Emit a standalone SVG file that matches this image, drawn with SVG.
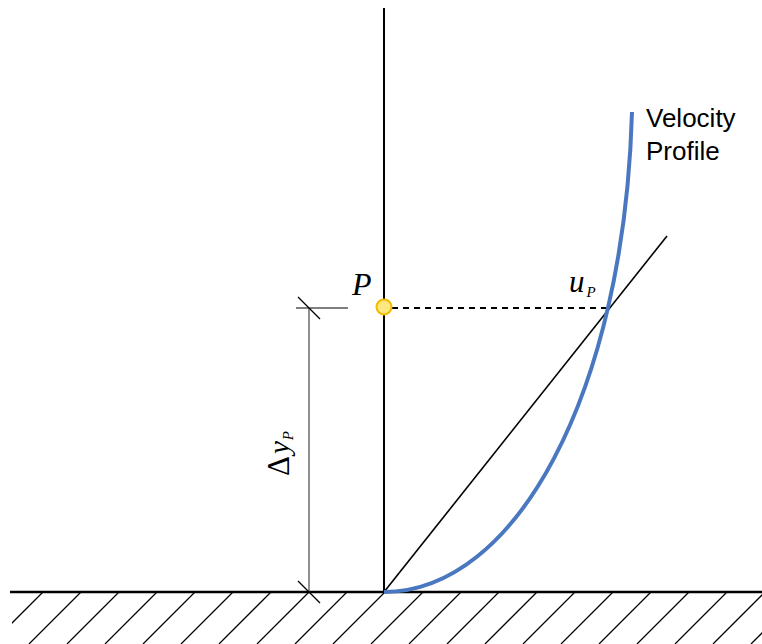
<svg xmlns="http://www.w3.org/2000/svg" width="762" height="644" viewBox="0 0 762 644">
<style>
.hatch{stroke:#000;stroke-width:1.3}
.dim{stroke:#555;stroke-width:1.3;fill:none}
.math{font-family:"Liberation Serif","DejaVu Serif",serif;font-style:italic;fill:#000}
.lbl{font-family:"Liberation Sans",Arial,sans-serif;font-size:26px;fill:#000}
</style>
<defs>
<clipPath id="gclip"><rect x="12" y="592" width="750" height="52"/></clipPath>
</defs>
<rect width="762" height="644" fill="#fff"/>
<g id="ground">
<g clip-path="url(#gclip)">
<path class="hatch" d="M43,592l-52,52M81,592l-52,52M119,592l-52,52M157,592l-52,52M195,592l-52,52M233,592l-52,52M271,592l-52,52M309,592l-52,52M347,592l-52,52M385,592l-52,52M423,592l-52,52M461,592l-52,52M499,592l-52,52M537,592l-52,52M575,592l-52,52M613,592l-52,52M651,592l-52,52M689,592l-52,52M727,592l-52,52M765,592l-52,52M803,592l-52,52"/>
</g>
<line x1="10" y1="592" x2="762" y2="592" stroke="#000" stroke-width="2.5"/>
</g>
<g id="connectors">
<line id="axis" x1="384" y1="8" x2="384" y2="592" stroke="#000" stroke-width="2"/>
<line id="tangent" x1="384" y1="592" x2="667" y2="236" stroke="#000" stroke-width="1.6"/>
<line id="dashed" x1="392" y1="308" x2="608" y2="308" stroke="#000" stroke-width="1.8" stroke-dasharray="6,5"/>
<path id="profile" d="M384,592 C515,592 624,395 632,112" fill="none" stroke="#4a78c0" stroke-width="4"/>
</g>
<g id="dimension">
<line class="dim" x1="309" y1="308" x2="309" y2="592"/>
<line class="dim" x1="296" y1="308" x2="348" y2="308"/>
<line x1="298" y1="297" x2="320" y2="319" stroke="#000" stroke-width="1.3"/>
<line x1="298" y1="581" x2="320" y2="603" stroke="#000" stroke-width="1.3"/>
<text class="math" transform="translate(289,476) rotate(-90)" font-size="29"><tspan font-style="normal" font-size="31">Δ</tspan><tspan dx="2">y</tspan><tspan font-size="15" dx="1" dy="4">P</tspan></text>
</g>
<g id="pointP">
<circle cx="384" cy="307" r="7.5" fill="#fbe97f" stroke="#f5b800" stroke-width="2"/>
<text class="math" x="352" y="295" font-size="32">P</text>
</g>
<g id="uP">
<text class="math" x="569" y="292" font-size="31">u<tspan font-size="15" dx="2" dy="5">P</tspan></text>
</g>
<g id="velocityLabel">
<text class="lbl" x="646" y="127">Velocity</text>
<text class="lbl" x="646" y="160">Profile</text>
</g>
</svg>
